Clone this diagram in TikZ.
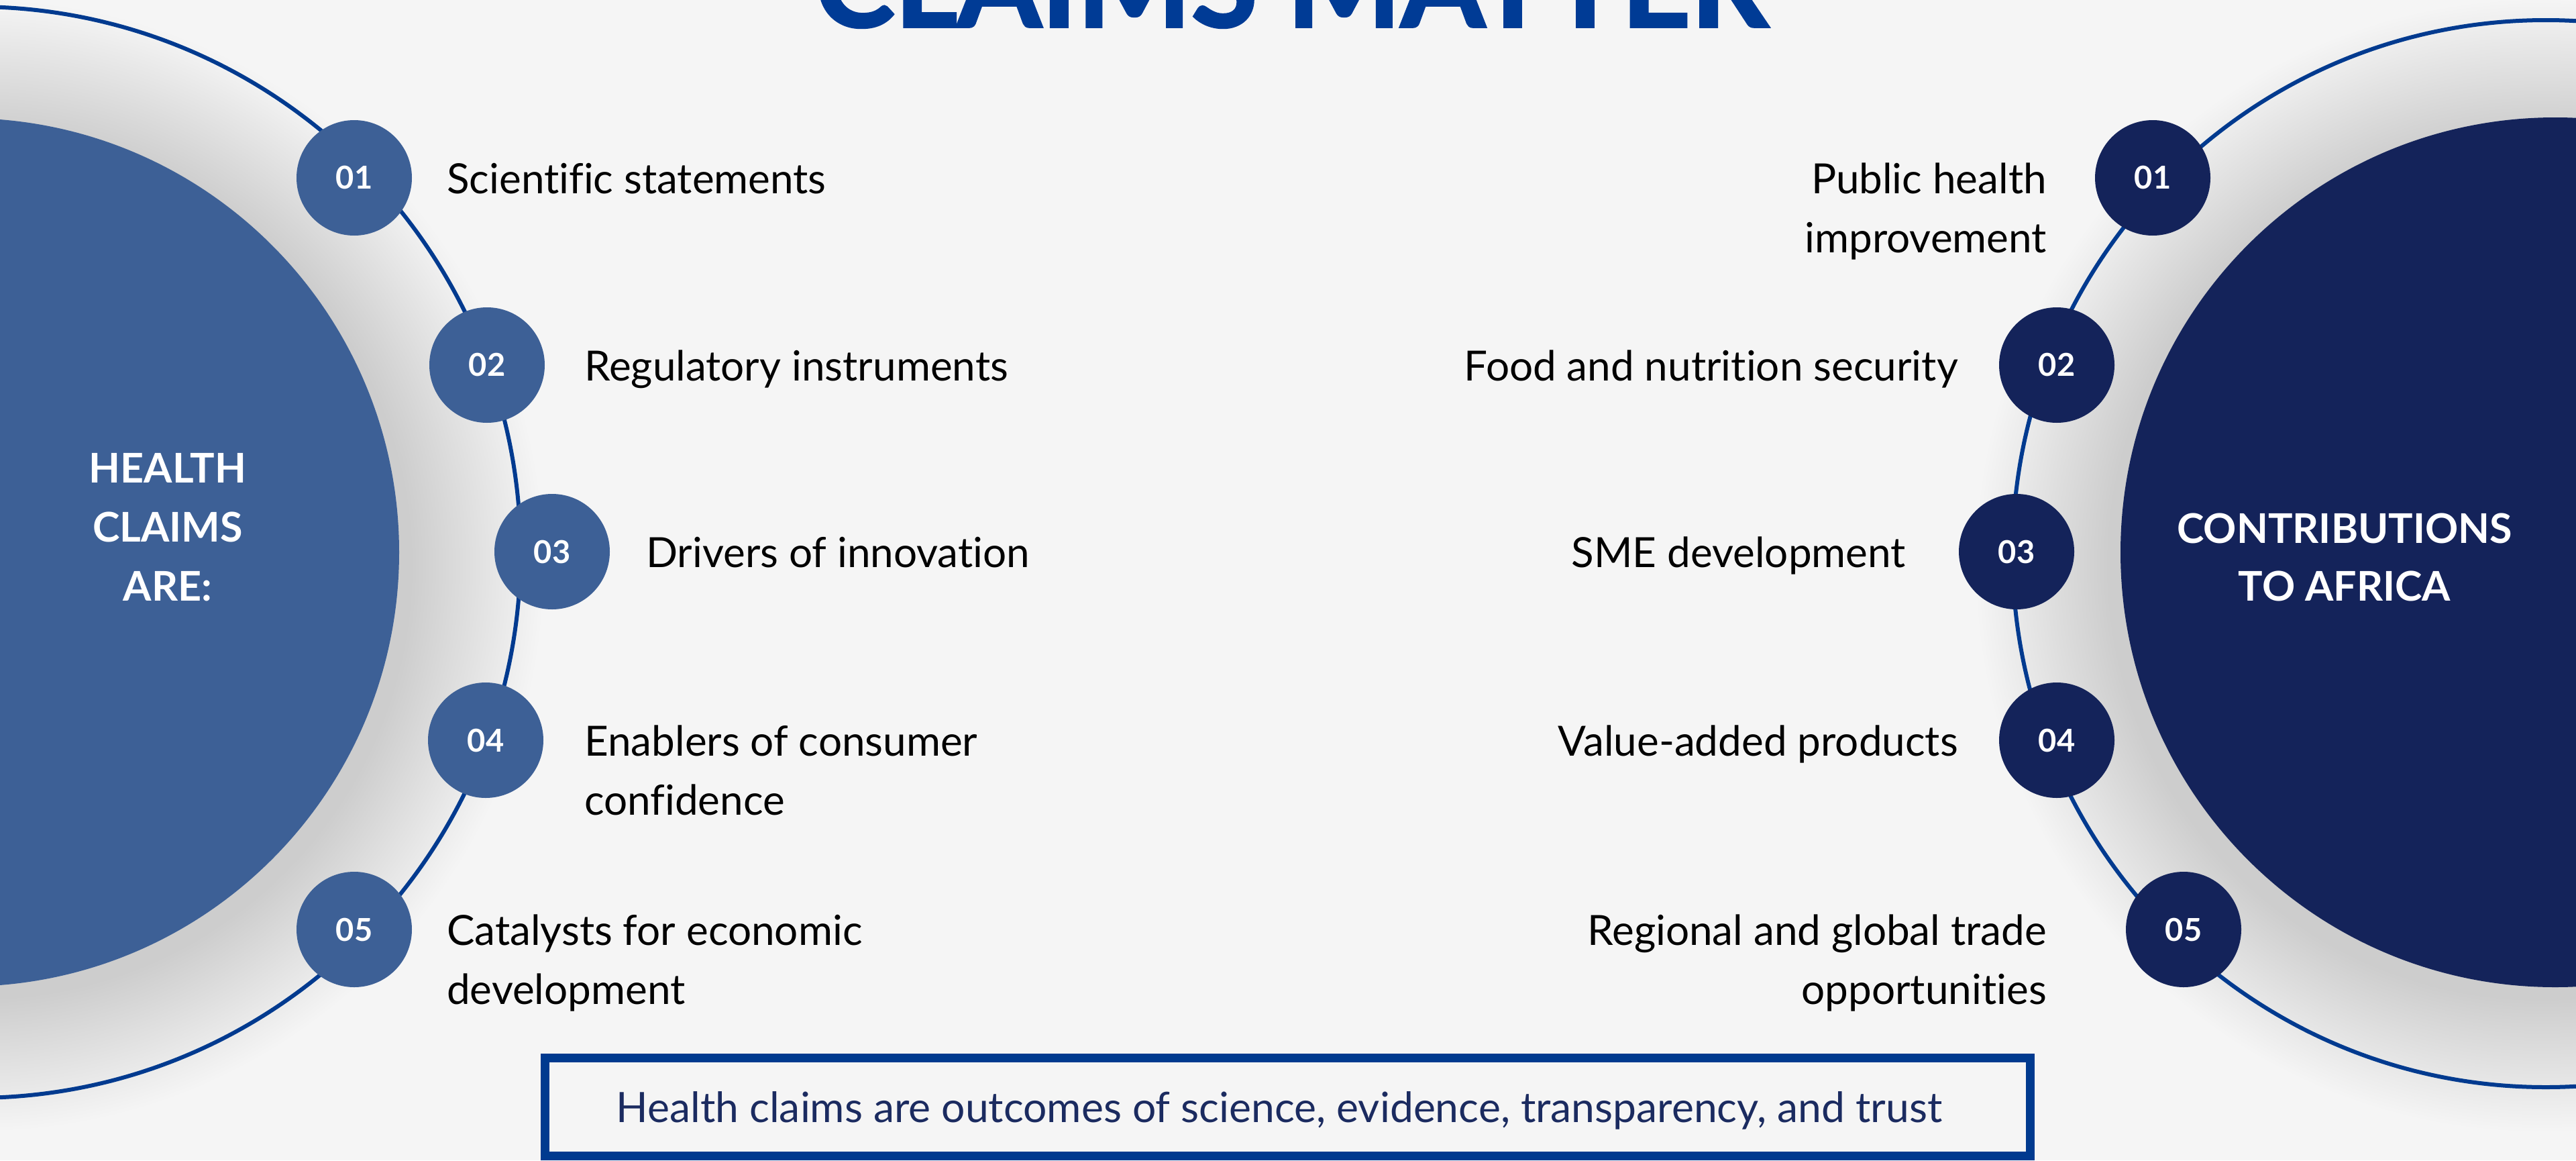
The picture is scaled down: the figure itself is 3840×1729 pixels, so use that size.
\documentclass[tikz,border=0pt]{standalone}
\usepackage{fontspec}
\setmainfont{Lato}[Ligatures=NoCommon]
\definecolor{bg}{HTML}{F5F5F5}
\definecolor{ringblue}{HTML}{003A8F}
\definecolor{lblue}{HTML}{3D6096}
\definecolor{navy}{HTML}{14235A}
\definecolor{titleblue}{HTML}{003B95}
\definecolor{boxtext}{HTML}{1B2B60}
\tikzset{
  ring/.style={draw=ringblue, line width=6pt},
  lnum/.style={circle, fill=lblue, minimum size=172pt, inner sep=0pt, text=white, font=\fontsize{47}{47}\selectfont\bfseries},
  rnum/.style={circle, fill=navy, minimum size=172pt, inner sep=0pt, text=white, font=\fontsize{47}{47}\selectfont\bfseries},
  itemL/.style={anchor=base west, inner sep=0pt, text=black, font=\fontsize{62}{88}\selectfont},
  itemR/.style={anchor=base east, inner sep=0pt, text=black, font=\fontsize{62}{88}\selectfont},
  head/.style={anchor=base, inner sep=0pt, text=white, font=\fontsize{61}{88}\selectfont\bfseries},
  bigL/.style={circle, fill=lblue, minimum size=1294pt, inner sep=0pt},
  bigR/.style={circle, fill=navy, minimum size=1296pt, inner sep=0pt},
}
\begin{document}
\begin{tikzpicture}[x=1pt,y=-1pt]
\clip (0,0) rectangle (3840,1729);
\fill[bg] (0,0) rectangle (3840,1729);
% soft shadows
\foreach \i in {0,...,39} {
  \fill[black, opacity=0.004] (-32,843) circle[radius={(647+\i*5)*1pt}];
  \fill[navy, opacity=0.0035] (3789,843) circle[radius={(648+\i*5)*1pt}];
}
% big circles
\node[bigL] (L) at (-52,823) {};
\node[bigR] (R) at (3809,823) {};
% rings
\draw[ring] (-37,823) circle[radius=813pt];
\draw[ring] (3795,825) circle[radius=795pt];
% title (cut off at top)
\node[anchor=base, inner sep=0pt, text=titleblue, font=\fontsize{180}{180}\selectfont\bfseries\addfontfeatures{FakeBold=2}] (title) at (1925,40) {CLAIMS MATTER};
% headers
\node[head] (h1) at (250,719) {HEALTH};
\node[head] (h2) at (250,807) {CLAIMS};
\node[head] (h3) at (250,895) {ARE:};
\node[head] (c1) at (3495,809) {CONTRIBUTIONS};
\node[head] (c2) at (3495,895) {TO AFRICA};
% left items
\node[lnum] (l1) at (528,265) {01};
\node[lnum] (l2) at (726,544) {02};
\node[lnum] (l3) at (823,822) {03};
\node[lnum] (l4) at (724,1103) {04};
\node[lnum] (l5) at (528,1385) {05};
\node[itemL] (t1) at (666,288) {Scientific statements};
\node[itemL] (t2) at (871,567) {Regulatory instruments};
\node[itemL] (t3) at (963,845) {Drivers of innovation};
\node[itemL] (t4a) at (871,1126) {Enablers of consumer};
\node[itemL] (t4b) at (871,1214) {confidence};
\node[itemL] (t5a) at (666,1408) {Catalysts for economic};
\node[itemL] (t5b) at (666,1496) {development};
% right items
\node[rnum] (r1) at (3209,265) {01};
\node[rnum] (r2) at (3066,544) {02};
\node[rnum] (r3) at (3006,822) {03};
\node[rnum] (r4) at (3066,1103) {04};
\node[rnum] (r5) at (3255,1385) {05};
\node[itemR] (u1a) at (3051,288) {Public health};
\node[itemR] (u1b) at (3051,376) {improvement};
\node[itemR] (u2) at (2919,567) {Food and nutrition security};
\node[itemR] (u3) at (2841,845) {SME development};
\node[itemR] (u4) at (2919,1126) {Value-added products};
\node[itemR] (u5a) at (3051,1408) {Regional and global trade};
\node[itemR] (u5b) at (3051,1496) {opportunities};
% bottom box
\node[draw=ringblue, line width=13pt, minimum width=2214pt, minimum height=146pt, inner sep=0pt] (box) at (1919.5,1649.5) {};
\node[inner sep=0pt, text=boxtext, text height=45pt, text depth=0pt, font=\fontsize{62.4}{62.4}\selectfont] (boxtxt) at (1907,1650)
      {Health claims are outcomes of science, evidence, transparency, and trust};
\end{tikzpicture}
\end{document}
